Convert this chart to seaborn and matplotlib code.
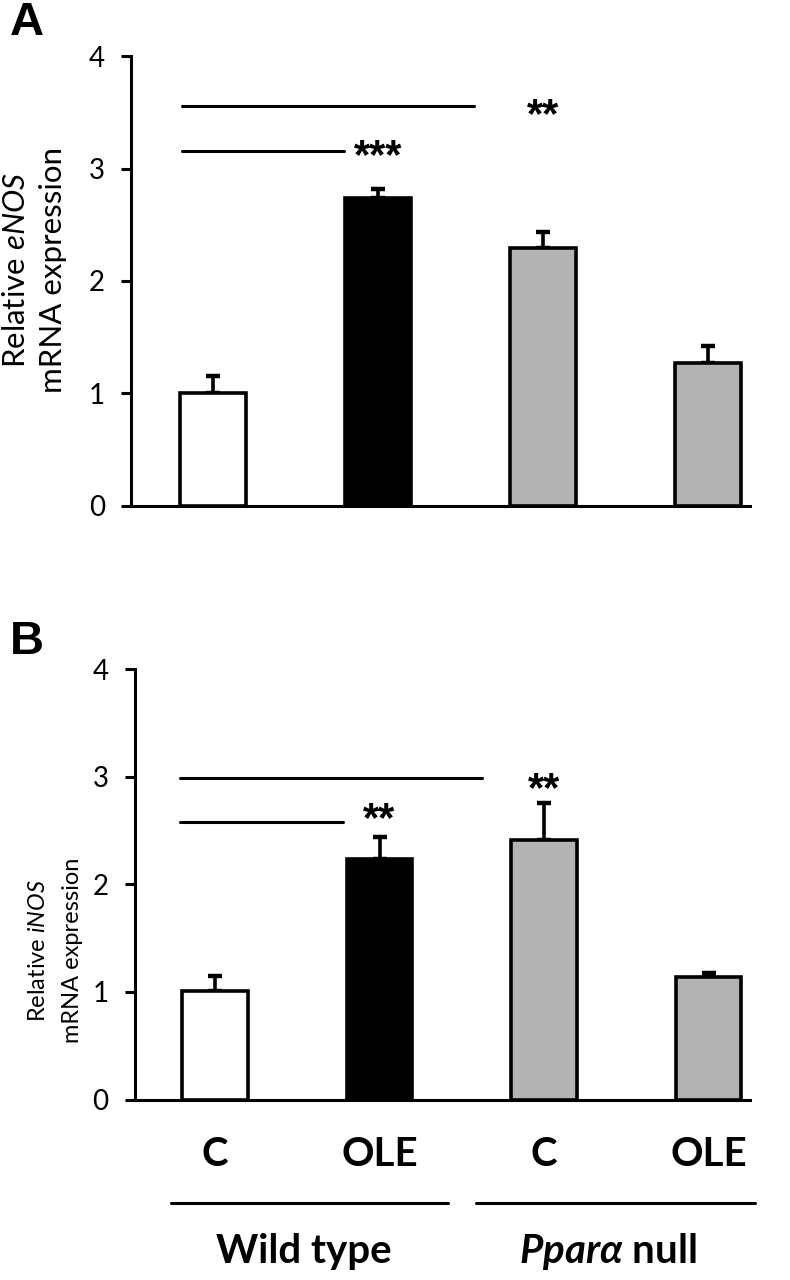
import pandas as pd
import seaborn as sns
import matplotlib.pyplot as plt
from matplotlib.lines import Line2D

groups = ["WT C", "WT OLE", "KO C", "KO OLE"]
tick_labels = ["C", "OLE", "C", "OLE"]
bar_colors = ["#ffffff", "#000000", "#b3b3b3", "#b3b3b3"]

enos_mean = [1.00, 2.74, 2.29, 1.27]
enos_sem = [0.15, 0.08, 0.15, 0.15]
inos_mean = [1.01, 2.24, 2.41, 1.14]
inos_sem = [0.14, 0.20, 0.35, 0.04]

sns.set_style("white")
plt.rcParams['font.family'] = ['Lato', 'DejaVu Sans']
plt.rcParams['mathtext.fontset'] = 'custom'
plt.rcParams['mathtext.it'] = 'Lato:italic'
plt.rcParams['mathtext.bf'] = 'Lato:bold:italic'
plt.rcParams['mathtext.rm'] = 'Lato'
for k in ['text.color', 'axes.labelcolor', 'xtick.color', 'ytick.color']:
    plt.rcParams[k] = 'black'

fig = plt.figure(figsize=(7.9, 12.8), dpi=100)
axA = fig.add_axes([0.166, 0.605, 0.783, 0.351])
axB = fig.add_axes([0.171, 0.141, 0.778, 0.336])


def panel(ax, means, sems, gene, xlim, lab_xy, lab_size, lab_ls):
    df = pd.DataFrame({"group": groups, "value": means})
    sns.barplot(data=df, x="group", y="value", hue="group", order=groups,
                palette=bar_colors, width=0.4, edgecolor="black",
                linewidth=2.6, errorbar=None, legend=False, ax=ax, zorder=3)
    ax.errorbar(range(4), means, yerr=[[0] * 4, sems], fmt="none",
                ecolor="black", elinewidth=2.6, capsize=5, capthick=3.2,
                zorder=2)
    ax.set_ylim(0, 4)
    ax.set_xlim(*xlim)
    ax.set_yticks([0, 1, 2, 3, 4])
    sns.despine(ax=ax)
    for s in ["left", "bottom"]:
        ax.spines[s].set_linewidth(2.2)
        ax.spines[s].set_color("black")
    ax.tick_params(axis="y", left=True, length=7, width=2.2, labelsize=20,
                   pad=12, colors="black")
    ax.tick_params(axis="x", bottom=False, length=0)
    ax.set_xlabel("")
    ax.set_ylabel("Relative $\\mathit{" + gene + "}$\nmRNA expression",
                  fontsize=lab_size, linespacing=lab_ls)
    ax.yaxis.set_label_coords(*lab_xy)


def bracket(ax, x0, x1, y):
    ax.plot([x0, x1], [y, y], color="black", lw=2.2, clip_on=False, zorder=4)


def stars(ax, x, y, s):
    ax.text(x, y, s, ha="center", va="center", fontsize=30,
            fontweight="bold", family=["Liberation Sans"])


panel(axA, enos_mean, enos_sem, "eNOS", (-0.497, 3.25), (-0.103, 0.525),
      22.5, 1.42)
axA.set_xticklabels([])
bracket(axA, -0.19, 1.58, 3.56)
bracket(axA, -0.19, 0.79, 3.16)
stars(axA, 1.0, 3.10, "***")
stars(axA, 2.0, 3.47, "**")

panel(axB, inos_mean, inos_sem, "iNOS", (-0.486, 3.25), (-0.085, 0.347),
      17, 1.75)
axB.set_xticks(range(4))
axB.set_xticklabels(tick_labels, fontsize=29, fontweight="bold")
axB.tick_params(axis="x", pad=26)
bracket(axB, -0.21, 1.62, 2.99)
bracket(axB, -0.21, 0.78, 2.58)
stars(axB, 1.0, 2.60, "**")
stars(axB, 2.0, 2.88, "**")

# group lines and labels below panel B
tr = axB.get_xaxis_transform()
axB.add_line(Line2D([-0.267, 1.415], [-0.2395, -0.2395], transform=tr,
                    color="black", lw=2.2, clip_on=False))
axB.add_line(Line2D([1.585, 3.28], [-0.2395, -0.2395], transform=tr,
                    color="black", lw=2.2, clip_on=False))
axB.text(0.54, -0.353, "Wild type", transform=tr, ha="center", va="center",
         fontsize=29, fontweight="bold")
axB.text(2.39, -0.353, "$\\mathbf{Ppar\\alpha}$ null", transform=tr,
         ha="center", va="center", fontsize=29, fontweight="bold")

fig.text(0.012, 0.999, "A", fontsize=34, fontweight="bold",
         family=["Liberation Sans"], va="top")
fig.text(0.012, 0.516, "B", fontsize=34, fontweight="bold",
         family=["Liberation Sans"], va="top")

fig.savefig("out.png", dpi=100)
